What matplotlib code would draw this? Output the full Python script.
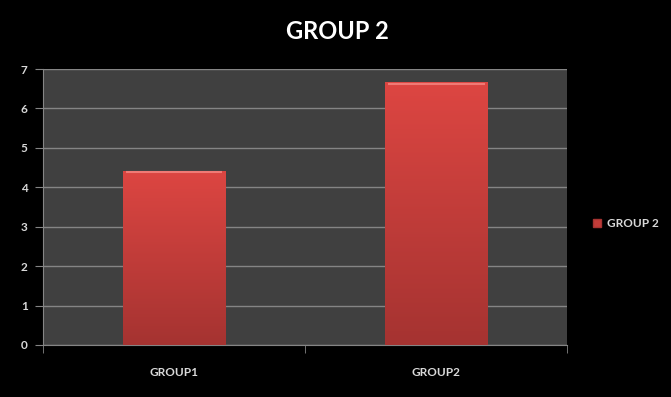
import matplotlib.pyplot as plt
import matplotlib.colors as mcolors
import numpy as np
from matplotlib.patches import Patch

categorias = ['GROUP1', 'GROUP2']
valores = [4.42, 6.67]
serie = 'GROUP 2'
titulo = 'GROUP 2'

plt.rcParams['font.family'] = ['Lato', 'DejaVu Sans']

fig = plt.figure(figsize=(6.71, 3.97), dpi=100, facecolor='black')
ax = fig.add_axes([0.0641, 0.131, 0.781, 0.695])
ax.set_facecolor('#404040')

x = np.arange(len(categorias))
barras = ax.bar(x, valores, width=0.39, color='#d0403d', zorder=3)

# degradado vertical dentro de cada barra
grad = mcolors.LinearSegmentedColormap.from_list('rojo', ['#a53331', '#dd4642'])
for b in barras:
    x0, y0 = b.get_x(), b.get_y()
    w, h = b.get_width(), b.get_height()
    img = ax.imshow(np.linspace(0, 1, 256).reshape(-1, 1), cmap=grad,
                    extent=[x0, x0 + w, y0, y0 + h], origin='lower',
                    aspect='auto', zorder=4)
    img.set_clip_path(b)
    # borde superior brillante
    ax.plot([x0 + 0.01, x0 + w - 0.01], [y0 + h - 0.04] * 2,
            color='#f07a75', lw=1.5, zorder=5, solid_capstyle='butt')

ax.set_xlim(-0.5, 1.5)
ax.set_ylim(0, 7)
ax.set_yticks(range(0, 8))
ax.set_xticks(x)
ax.set_xticklabels(categorias)
ax.set_xticks([-0.5, 0.5, 1.5], minor=True)

ax.grid(axis='y', color='#858585', lw=1, zorder=1)
for s in ['top', 'right']:
    ax.spines[s].set_visible(False)
for s in ['left', 'bottom']:
    ax.spines[s].set_color('#858585')

ax.tick_params(axis='y', colors='#858585', length=6, labelcolor='#d9d9d9',
               labelsize=8.5, pad=5)
ax.tick_params(axis='x', which='major', length=0, labelcolor='#d9d9d9',
               labelsize=8.5, pad=16)
ax.tick_params(axis='x', which='minor', colors='#858585', length=6)
for lab in ax.get_xticklabels() + ax.get_yticklabels():
    lab.set_fontweight('bold')

fig.suptitle(titulo, color='white', fontsize=17, fontweight='bold',
             x=0.503, y=0.95)

fig.legend(handles=[Patch(facecolor='#c33c39', edgecolor='#a53331')],
           labels=[serie], loc='center left', bbox_to_anchor=(0.868, 0.436),
           frameon=False, handlelength=0.7, handleheight=0.7,
           handletextpad=0.5, prop={'size': 8.5, 'weight': 'bold'},
           labelcolor='#d9d9d9')

fig.savefig('out.png', dpi=100, facecolor='black')
